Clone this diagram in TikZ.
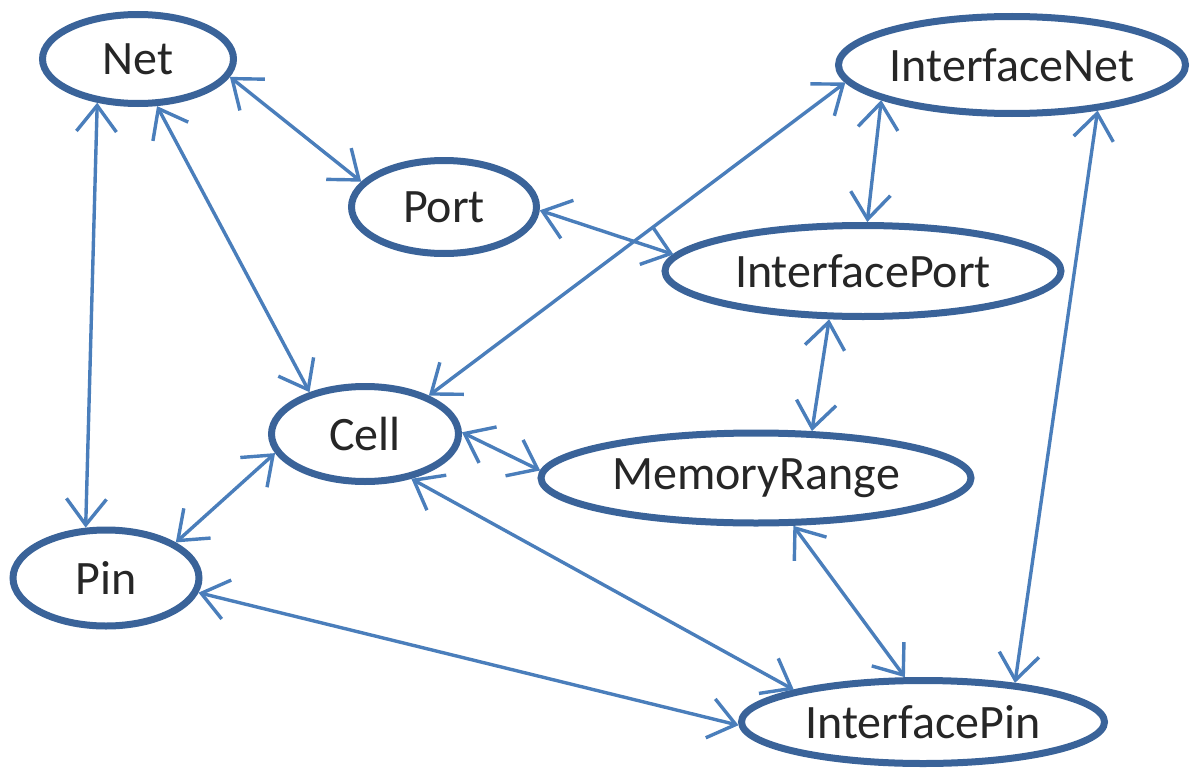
\documentclass[tikz,border=0pt]{standalone}
\usepackage{fontspec}
\setmainfont{Carlito}
\usetikzlibrary{arrows.meta,shapes.geometric}
\definecolor{nodeblue}{HTML}{3A6399}
\definecolor{linkblue}{HTML}{4A7EBB}
\begin{document}
\begin{tikzpicture}[x=1pt,y=-1pt,
  ent/.style={ellipse, draw=nodeblue, line width=7pt, fill=white, inner sep=0pt,
    font=\fontsize{48}{58}\selectfont, text=black!85},
  link/.style={draw=linkblue, line width=3.4pt,
    {Straight Barb[length=26pt,width=40pt]}-{Straight Barb[length=26pt,width=40pt]}}]
\useasboundingbox (0,0) rectangle (1196,768);
\node[ent, minimum width=191pt, minimum height=89pt] (net) at (138,59) {Net};
\node[ent, minimum width=185pt, minimum height=93pt] (port) at (444,207) {Port};
\node[ent, minimum width=347pt, minimum height=97pt] (inet) at (1012,65) {InterfaceNet};
\node[ent, minimum width=396pt, minimum height=91pt] (iport) at (863,271) {InterfacePort};
\node[ent, minimum width=187pt, minimum height=95pt] (cell) at (365,434) {Cell};
\node[ent, minimum width=430pt, minimum height=90pt] (mem) at (756,478) {MemoryRange};
\node[ent, minimum width=186pt, minimum height=96pt] (pin) at (106,578) {Pin};
\node[ent, minimum width=363pt, minimum height=83pt] (ipin) at (923,722) {InterfacePin};
\draw[link] (net.-11) -- (port.163);
\draw[link] (net.227) -- (pin.112);
\draw[link] (net.-68) -- (cell.143);
\draw[link] (inet.186) -- (cell.31);
\draw[link] (inet.195) -- (iport.85);
\draw[link] (inet.-28) -- (ipin.23);
\draw[link] (port.-2) -- (iport.175);
\draw[link] (iport.-125) -- (mem.40);
\draw[link] (cell.1) -- (mem.178);
\draw[link] (cell.192) -- (pin.27);
\draw[link] (cell.-44) -- (ipin.166);
\draw[link] (mem.-52) -- (ipin.112);
\draw[link] (pin.-9) -- (ipin.181);
\end{tikzpicture}
\end{document}
